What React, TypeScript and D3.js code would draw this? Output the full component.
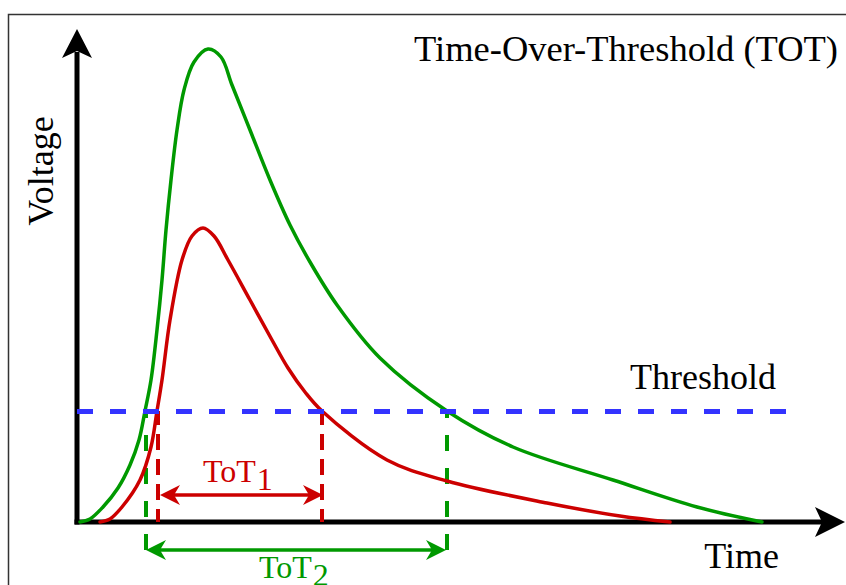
import { useEffect, useRef } from "react";
import * as d3 from "d3";

// time / voltage (arbitrary units)
const greenTime = [3, 13, 26, 41, 53, 62, 68, 74, 80, 85, 89, 94, 100, 107, 117, 131, 144, 155, 173, 193, 213, 233, 260, 303, 370, 436, 536, 620, 685];
const greenVoltage = [0, 3, 15, 34, 57, 82, 111, 142, 192, 242, 292, 342, 392, 432, 460, 473, 465, 437, 392, 342, 297, 260, 217, 164, 111, 75, 42, 15, 0];

const redTime = [23, 33, 45, 63, 74, 80, 85, 93, 105, 115, 126, 137, 151, 173, 195, 211, 228, 245, 310, 370, 470, 543, 593];
const redVoltage = [0, 3, 15, 42, 75, 111, 142, 202, 262, 286, 294, 286, 262, 222, 182, 154, 130, 111, 62, 41, 19, 6, 0];

const threshold = 111;
const tot1 = [81, 245]; // red crossings
const tot2 = [69, 370]; // green crossings

const GREEN = "#009900";
const RED = "#cc0000";
const BLUE = "#3333ff";
const FONT = "'Liberation Serif', 'Times New Roman', serif";

const App = () => {
  const ref = useRef<HTMLDivElement>(null);

  useEffect(() => {
    const width = 846;
    const height = 585;

    const x = d3.scaleLinear([0, 768], [77, 845]);
    const y = d3.scaleLinear([0, 493], [522, 29]);

    const svg = d3
      .create("svg")
      .attr("width", width)
      .attr("height", height)
      .attr("viewBox", [0, 0, width, height])
      .style("position", "absolute")
      .style("left", "0px")
      .style("top", "0px")
      .style("background", "#fff");

    // frame
    svg.append("rect")
      .attr("x", 8.5).attr("y", 14.5)
      .attr("width", 900).attr("height", 700)
      .attr("fill", "none")
      .attr("stroke", "#333")
      .attr("stroke-width", 1.5);

    // axes with arrow heads
    const x0 = x(0), y0 = y(0);
    svg.append("line")
      .attr("x1", x0).attr("x2", x0)
      .attr("y1", y0 + 2.5).attr("y2", 52)
      .attr("stroke", "#000").attr("stroke-width", 5);
    svg.append("path")
      .attr("d", `M${x0},29 L${x0 + 15},58 L${x0},51 L${x0 - 15},58 Z`)
      .attr("fill", "#000");
    svg.append("line")
      .attr("x1", x0 - 2.5).attr("x2", 822)
      .attr("y1", y0).attr("y2", y0)
      .attr("stroke", "#000").attr("stroke-width", 5);
    svg.append("path")
      .attr("d", `M845,${y0} L815,${y0 - 15} L822,${y0} L815,${y0 + 15} Z`)
      .attr("fill", "#000");

    // dashed verticals at the threshold crossings
    const yT = y(threshold);
    const vline = (t: number, yEnd: number, color: string, dash: string, offset: number) =>
      svg.append("line")
        .attr("x1", x(t)).attr("x2", x(t))
        .attr("y1", yT).attr("y2", yEnd)
        .attr("stroke", color)
        .attr("stroke-width", 4)
        .attr("stroke-dasharray", dash)
        .attr("stroke-dashoffset", offset);
    tot1.forEach((t) => vline(t, y0, RED, "16 9", 2));
    tot2.forEach((t) => vline(t, 552, GREEN, "16 17", 9));

    // pulses
    const line = d3.line().curve(d3.curveCatmullRom.alpha(0.5));
    const greenPts = greenTime.map((t, i) => [x(t), y(greenVoltage[i])] as [number, number]);
    const redPts = redTime.map((t, i) => [x(t), y(redVoltage[i])] as [number, number]);
    svg.append("path")
      .attr("d", line(redPts))
      .attr("fill", "none").attr("stroke", RED).attr("stroke-width", 3.5)
      .attr("stroke-linecap", "round");
    svg.append("path")
      .attr("d", line(greenPts))
      .attr("fill", "none").attr("stroke", GREEN).attr("stroke-width", 3.5)
      .attr("stroke-linecap", "round");

    // threshold line
    svg.append("line")
      .attr("x1", x0).attr("x2", 786)
      .attr("y1", yT + 0.5).attr("y2", yT + 0.5)
      .attr("stroke", BLUE)
      .attr("stroke-width", 5)
      .attr("stroke-dasharray", "16 17");

    // double arrows
    const dblArrow = (xa: number, xb: number, yy: number, color: string) => {
      const g = svg.append("g").attr("fill", color);
      g.append("line")
        .attr("x1", xa + 10).attr("x2", xb - 10)
        .attr("y1", yy).attr("y2", yy)
        .attr("stroke", color).attr("stroke-width", 3.5);
      g.append("path").attr("d", `M${xa},${yy} L${xa + 20},${yy - 10} L${xa + 14},${yy} L${xa + 20},${yy + 10} Z`);
      g.append("path").attr("d", `M${xb},${yy} L${xb - 20},${yy - 10} L${xb - 14},${yy} L${xb - 20},${yy + 10} Z`);
    };
    dblArrow(x(tot1[0]) + 2, x(tot1[1]) + 1, 495, RED);
    dblArrow(x(tot2[0]), x(tot2[1]) - 1, 550, GREEN);

    // labels
    const label = (tx: number, ty: number, text: string, size = 36) =>
      svg.append("text")
        .attr("x", tx).attr("y", ty)
        .attr("text-anchor", "end")
        .attr("font-family", FONT)
        .attr("font-size", size)
        .attr("fill", "#000")
        .text(text);
    label(838, 61, "Time-Over-Threshold (TOT)", 36.5);
    label(776, 389, "Threshold");
    label(779, 568, "Time");
    svg.append("text")
      .attr("transform", "translate(53,171) rotate(-90)")
      .attr("text-anchor", "middle")
      .attr("font-family", FONT)
      .attr("font-size", 36)
      .text("Voltage");

    const tot = (tx: number, ty: number, sub: string, color: string) => {
      const t = svg.append("text")
        .attr("x", tx).attr("y", ty)
        .attr("font-family", FONT)
        .attr("font-size", 32)
        .attr("fill", color);
      t.append("tspan").text("ToT");
      t.append("tspan").attr("dy", 8).attr("dx", 1).text(sub);
    };
    tot(203, 482, "1", RED);
    tot(259, 578, "2", GREEN);

    if (ref.current) {
      ref.current.innerHTML = "";
      ref.current.appendChild(svg.node()!);
    }
  }, []);

  return <div ref={ref}></div>;
};

export default App;
